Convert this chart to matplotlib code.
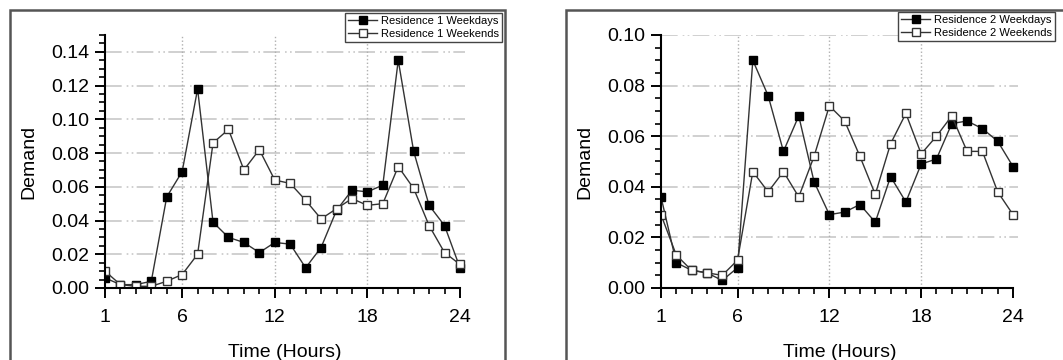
import numpy as np
import matplotlib
matplotlib.use('Agg')
import matplotlib.pyplot as plt
from matplotlib.patches import Rectangle
from matplotlib.ticker import MultipleLocator, FixedLocator, FormatStrFormatter

plt.rcParams['font.family'] = ['Liberation Sans', 'DejaVu Sans']

# data
hours = list(range(1, 25))
r1_weekdays = [0.006, 0.002, 0.002, 0.004, 0.054, 0.069, 0.118, 0.039, 0.030, 0.027,
               0.021, 0.027, 0.026, 0.012, 0.024, 0.046, 0.058, 0.057, 0.061, 0.135,
               0.081, 0.049, 0.037, 0.012]
r1_weekends = [0.010, 0.002, 0.001, 0.001, 0.004, 0.008, 0.020, 0.086, 0.094, 0.070,
               0.082, 0.064, 0.062, 0.052, 0.041, 0.047, 0.053, 0.049, 0.050, 0.072,
               0.059, 0.037, 0.021, 0.014]
r2_weekdays = [0.036, 0.010, 0.007, 0.006, 0.003, 0.008, 0.090, 0.076, 0.054, 0.068,
               0.042, 0.029, 0.030, 0.033, 0.026, 0.044, 0.034, 0.049, 0.051, 0.065,
               0.066, 0.063, 0.058, 0.048]
r2_weekends = [0.029, 0.013, 0.007, 0.006, 0.005, 0.011, 0.046, 0.038, 0.046, 0.036,
               0.052, 0.072, 0.066, 0.052, 0.037, 0.057, 0.069, 0.053, 0.060, 0.068,
               0.054, 0.054, 0.038, 0.029]
xticks = [1, 6, 12, 18, 24]

W, H = 1063, 360
fig = plt.figure(figsize=(W / 100, H / 100), dpi=100)

# outer frames around each panel
for x0, x1 in [(10, 505), (566, 1075)]:
    fig.patches.append(Rectangle((x0 / W, -0.05), (x1 - x0) / W, 1.05 - 10 / H,
                                 transform=fig.transFigure, fill=False,
                                 edgecolor='#555555', linewidth=1.8))


def make_panel(rect, wd, we, ymax, names, leg_xy):
    ax = fig.add_axes(rect)
    ax.plot(hours, wd, color='#333333', lw=1, marker='s', ms=6,
            mfc='black', mec='black', label=names[0])
    ax.plot(hours, we, color='#333333', lw=1, marker='s', ms=6,
            mfc='white', mec='#333333', label=names[1])
    ax.set_xlim(1, 24.3)
    ax.set_ylim(0, ymax)
    ax.spines['top'].set_visible(False)
    ax.spines['right'].set_visible(False)
    ax.spines['bottom'].set_bounds(1, 24)
    for s in ('left', 'bottom'):
        ax.spines[s].set_linewidth(1.5)
    ax.xaxis.set_major_locator(FixedLocator(xticks))
    ax.xaxis.set_minor_locator(MultipleLocator(1))
    ax.yaxis.set_major_locator(MultipleLocator(0.02))
    ax.yaxis.set_minor_locator(MultipleLocator(0.005))
    ax.yaxis.set_major_formatter(FormatStrFormatter('%.2f'))
    ax.tick_params(which='major', direction='out', length=7, width=1.4,
                   labelsize=14, pad=4)
    ax.tick_params(axis='x', which='major', pad=8)
    ax.tick_params(which='minor', direction='out', length=4, width=1.2)
    # grid
    for v in np.arange(0.02, ymax + 1e-9, 0.02):
        ax.axhline(v, color='#c8c8c8', lw=1.2, ls=(0, (10, 3, 1, 2, 1, 2)), zorder=0)
    for v in [6, 12, 18]:
        ax.axvline(v, color='#b0b0b0', lw=1, ls=':', zorder=0)
    ax.set_ylabel('Demand', fontsize=14, labelpad=10)
    ax.set_xlabel('Time (Hours)', fontsize=14, labelpad=13)
    fig.legend(*ax.get_legend_handles_labels(), loc='upper left',
               bbox_to_anchor=leg_xy, bbox_transform=fig.transFigure,
               fontsize=8, frameon=True, fancybox=False, edgecolor='#444444',
               borderpad=0.3, labelspacing=0.25, handlelength=2.6,
               handletextpad=0.3, borderaxespad=0, framealpha=1)
    return ax


make_panel([105 / W, 0.2, 359.6 / W, 0.7028], r1_weekdays, r1_weekends, 0.15,
           ['Residence 1 Weekdays', 'Residence 1 Weekends'], (345 / W, 1 - 13 / H))
make_panel([661 / W, 0.2, 356.6 / W, 0.7028], r2_weekdays, r2_weekends, 0.10,
           ['Residence 2 Weekdays', 'Residence 2 Weekends'], (898 / W, 1 - 12 / H))

fig.savefig('out.png', dpi=100)
